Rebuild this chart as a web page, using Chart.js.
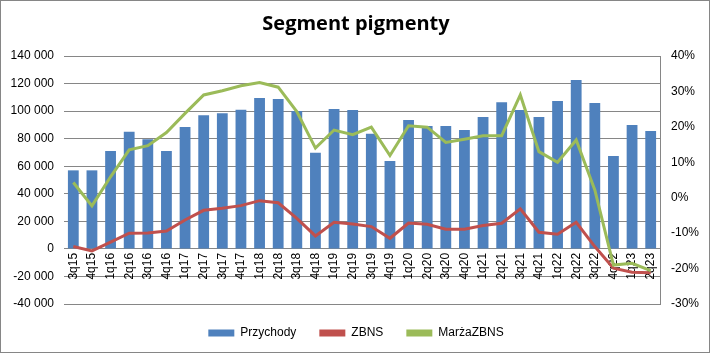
<!DOCTYPE html>
<html>
<head>
<meta charset="utf-8">
<script src="https://cdn.jsdelivr.net/npm/chart.js@4"></script>
<style>
  html, body { margin: 0; padding: 0; background: #fff; }
  #wrap { width: 710px; height: 353px; position: relative; }
</style>
</head>
<body>
<div id="wrap"><canvas id="myChart" width="710" height="353"></canvas></div>
<script>
const quarters = ['3q15','4q15','1q16','2q16','3q16','4q16','1q17','2q17','3q17','4q17',
  '1q18','2q18','3q18','4q18','1q19','2q19','3q19','4q19','1q20','2q20','3q20','4q20',
  '1q21','2q21','3q21','4q21','1q22','2q22','3q22','4q22','1q23','2q23'];

const przychody = [57000, 57000, 71000, 85000, 79500, 71000, 88500, 97000, 98500, 101000,
  109500, 108800, 100000, 69700, 101500, 100800, 83500, 63800, 93500, 89200, 89200, 86200,
  95800, 106500, 100800, 95800, 107300, 122500, 105800, 67500, 90000, 85500];

const zbns = [1700, -1500, 4900, 11400, 11500, 13000, 21000, 28000, 29500, 31400,
  35000, 33500, 22200, 9400, 19300, 18100, 16200, 7700, 18800, 17900, 14300, 14300,
  16900, 18600, 29000, 12100, 10600, 19300, 1700, -14000, -16900, -17400];

// marża ZBNS w %
const marza = [4.3, -2.3, 5.9, 13.5, 14.7, 18.4, 23.8, 29.0, 30.2, 31.6,
  32.5, 31.2, 24.3, 14.0, 19.1, 17.8, 19.9, 11.9, 20.3, 19.9, 15.6, 16.5,
  17.5, 17.5, 29.0, 13.0, 10.0, 16.3, 2.2, -19.0, -18.5, -20.6];

const leftTicks = [-40000, 140000, 20000];
const rightTicks = [-30, 40, 10];

const FONT = 'Liberation Sans';

const borderPlugin = {
  id: 'outerBorder',
  afterDraw(chart) {
    const c = chart.ctx;
    c.save();
    c.strokeStyle = '#868686';
    c.lineWidth = 1;
    c.strokeRect(0.5, 0.5, chart.width - 1, chart.height - 1);
    c.restore();
  }
};

const ctx = document.getElementById('myChart').getContext('2d');
const myChart = new Chart(ctx, {
  type: 'bar',
  data: {
    labels: quarters,
    datasets: [
      {
        type: 'line',
        label: 'ZBNS',
        data: zbns,
        yAxisID: 'y',
        borderColor: '#C0504D',
        backgroundColor: '#C0504D',
        borderWidth: 3,
        pointRadius: 0,
        tension: 0,
        order: 1
      },
      {
        type: 'line',
        label: 'MarżaZBNS',
        data: marza,
        yAxisID: 'y1',
        borderColor: '#9BBB59',
        backgroundColor: '#9BBB59',
        borderWidth: 3,
        pointRadius: 0,
        tension: 0,
        order: 0
      },
      {
        type: 'bar',
        label: 'Przychody',
        data: przychody,
        yAxisID: 'y',
        backgroundColor: '#4F81BD',
        borderWidth: 0,
        barPercentage: 0.58,
        categoryPercentage: 1.0,
        order: 2
      }
    ]
  },
  options: {
    responsive: false,
    animation: false,
    layout: { padding: { left: 8, right: 6, top: 0, bottom: 4 } },
    plugins: {
      title: {
        display: true,
        text: 'Segment pigmenty',
        color: '#000',
        font: { family: 'Open Sans', size: 20, weight: 'bold' },
        padding: { top: 12, bottom: 20 }
      },
      legend: {
        position: 'bottom',
        labels: {
          color: '#000',
          font: { family: FONT, size: 12 },
          boxWidth: 26,
          boxHeight: 7,
          padding: 23,
          sort: (a, b) => {
            const order = ['Przychody', 'ZBNS', 'MarżaZBNS'];
            return order.indexOf(a.text) - order.indexOf(b.text);
          },
          generateLabels(chart) {
            return chart.data.datasets.map((ds, i) => ({
              text: ds.label,
              fillStyle: ds.type === 'bar' ? ds.backgroundColor : ds.borderColor,
              strokeStyle: ds.type === 'bar' ? ds.backgroundColor : ds.borderColor,
              lineWidth: 0,
              fontColor: '#000',
              datasetIndex: i,
              hidden: false
            }));
          }
        }
      },
      tooltip: { enabled: false }
    },
    scales: {
      x: {
        position: { y: 0 },
        grid: { display: false, drawTicks: false },
        border: { display: true, color: '#868686', width: 1 },
        ticks: {
          color: '#000',
          font: { family: FONT, size: 12 },
          minRotation: 90,
          maxRotation: 90,
          autoSkip: false,
          padding: 4
        }
      },
      y: {
        position: 'left',
        min: leftTicks[0],
        max: leftTicks[1],
        grid: { color: '#868686', drawTicks: false, lineWidth: 1 },
        border: { display: false },
        ticks: {
          stepSize: leftTicks[2],
          color: '#000',
          font: { family: FONT, size: 12 },
          padding: 10,
          callback: v => v.toLocaleString('pl-PL').replace(/\s/g, ' ')
        },
        afterFit(scale) { scale.width = 56; }
      },
      y1: {
        position: 'right',
        min: rightTicks[0],
        max: rightTicks[1],
        grid: { display: false, drawOnChartArea: false, drawTicks: true, tickLength: 5, color: '#868686' },
        border: { display: true, color: '#868686', width: 1 },
        ticks: {
          stepSize: rightTicks[2],
          color: '#000',
          font: { family: FONT, size: 12 },
          padding: 6,
          callback: v => v + '%'
        },
        afterFit(scale) { scale.width = 44; }
      }
    }
  },
  plugins: [borderPlugin]
});
</script>
</body>
</html>
